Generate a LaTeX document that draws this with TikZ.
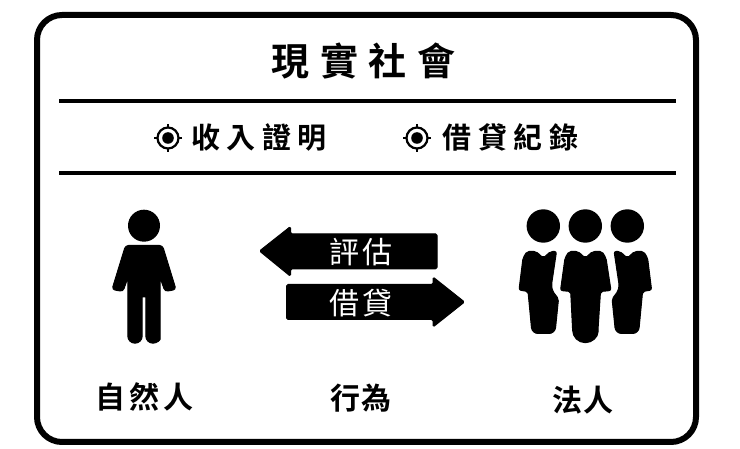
\documentclass[tikz,border=0pt]{standalone}
\usepackage{fontspec}
\newfontfamily\cjk{Noto Sans CJK TC}[BoldFont={Noto Sans CJK TC Bold}]
\begin{document}
\begin{tikzpicture}[x=1pt,y=-1pt,line join=round,
  frame/.style={draw=black,line width=6pt,rounded corners=25pt},
  rule/.style={draw=black,line width=3.5pt},
  solid shape/.style={fill=black,draw=black,line width=1pt,line join=round},
  title/.style={font=\cjk\bfseries\fontsize{38}{38}\selectfont,inner sep=0pt},
  item/.style={font=\cjk\bfseries\fontsize{29}{29}\selectfont,inner sep=0pt},
  cap label/.style={font=\cjk\bfseries\fontsize{30}{30}\selectfont,inner sep=0pt},
  arrow label/.style={font=\cjk\fontsize{30}{30}\selectfont,text=white,inner sep=0pt}]
\useasboundingbox (0,0) rectangle (740,449);
\fill[white] (0,0) rectangle (740,449);
\draw[frame] (37,15) rectangle (696,442);
\draw[rule] (59,101) -- (676,101);
\draw[rule] (59,173) -- (676,173);
\node[title] (t) at (363.5,61) {現\kern10.5pt實\kern10.5pt社\kern10.5pt會};
% target icons
\foreach \cx/\nm in {168/a,417/b}{
  \begin{scope}[shift={(\cx,138)}]
    \draw[line width=2.2pt] (0,0) circle (10.5);
    \fill (0,0) circle (5.8);
    \draw[line width=2pt] (0,-14) -- (0,-10) (0,14) -- (0,10) (-14,0) -- (-10,0) (14,0) -- (10,0);
  \end{scope}
}
\node[item] (i1) at (259,137) {收\kern6.5pt入\kern6.5pt證\kern6.5pt明};
\node[item] (i2) at (510.5,137) {借\kern6.5pt貸\kern6.5pt紀\kern6.5pt錄};
% single person
\fill (144,225.7) circle (16);
\path[solid shape,rounded corners=3pt] (125.5,245.5) -- (162.5,245.5) -- (176,289.5) -- (165,291.5) -- (160.2,278) -- (160.2,336) [sharp corners] arc[start angle=0,end angle=180,radius=7.2] -- (145.8,297) -- (142.2,297) -- (142.2,336) arc[start angle=0,end angle=180,radius=7.2] [rounded corners=3pt] -- (127.8,278) -- (123,291.5) -- (112,289.5) -- cycle;
% group
\fill (543.3,226) circle (16.7);
\fill (585.3,226) circle (16.7);
\fill (627.3,226) circle (16.7);
% centre figure
\path[solid shape,rounded corners=2pt] (569,251.5) -- (578,251.5) -- (585.3,258) -- (592.6,251.5) -- (602,251.5) -- (606,258) -- (611,290.5) -- (600.5,291.5) -- (598,330) [sharp corners] arc[start angle=0,end angle=180,radius=12.7] [rounded corners=2pt] -- (570.7,291.5) -- (560.5,290.5) -- (565,258) -- cycle;
% left figure
\path[solid shape,rounded corners=2pt] (527,251.5) -- (536,251.5) -- (543.3,258) -- (550.6,251.5) -- (556.5,251.5) -- (551.5,285) -- (552.5,291) -- (558.5,299) [rounded corners=6pt] -- (555,333.5) -- (532,333.5) [rounded corners=2pt] -- (528,291.5) -- (519,290) -- (523,258) -- cycle;
% right figure
\path[solid shape,rounded corners=2pt] (643.6,251.5) -- (634.6,251.5) -- (627.3,258) -- (620,251.5) -- (614.1,251.5) -- (619.1,285) -- (618.1,291) -- (612.1,299) [rounded corners=6pt] -- (615.6,333.5) -- (638.6,333.5) [rounded corners=2pt] -- (642.6,291.5) -- (651.6,290) -- (647.6,258) -- cycle;
% arrows
\path[solid shape,rounded corners=1.5pt] (437,233.8) -- (290.5,233.8) -- (290.5,226.5) -- (259.5,251) -- (290.5,276.3) -- (290.5,268.8) -- (437,268.8) -- cycle;
\path[solid shape,rounded corners=1.5pt] (286.5,284.5) -- (433,284.5) -- (433,277) -- (464.5,302) -- (433,327) -- (433,319.5) -- (286.5,319.5) -- cycle;
\node[arrow label] (ev) at (361,252) {評\kern3pt估};
\node[arrow label] (lo) at (361,303) {借\kern3pt貸};
\node[cap label] (c1) at (144.5,397) {自\kern4.5pt然\kern4.5pt人};
\node[cap label] (c2) at (361,398) {行\kern2pt為};
\node[cap label] (c3) at (583,400) {法\kern2pt人};
\end{tikzpicture}
\end{document}
